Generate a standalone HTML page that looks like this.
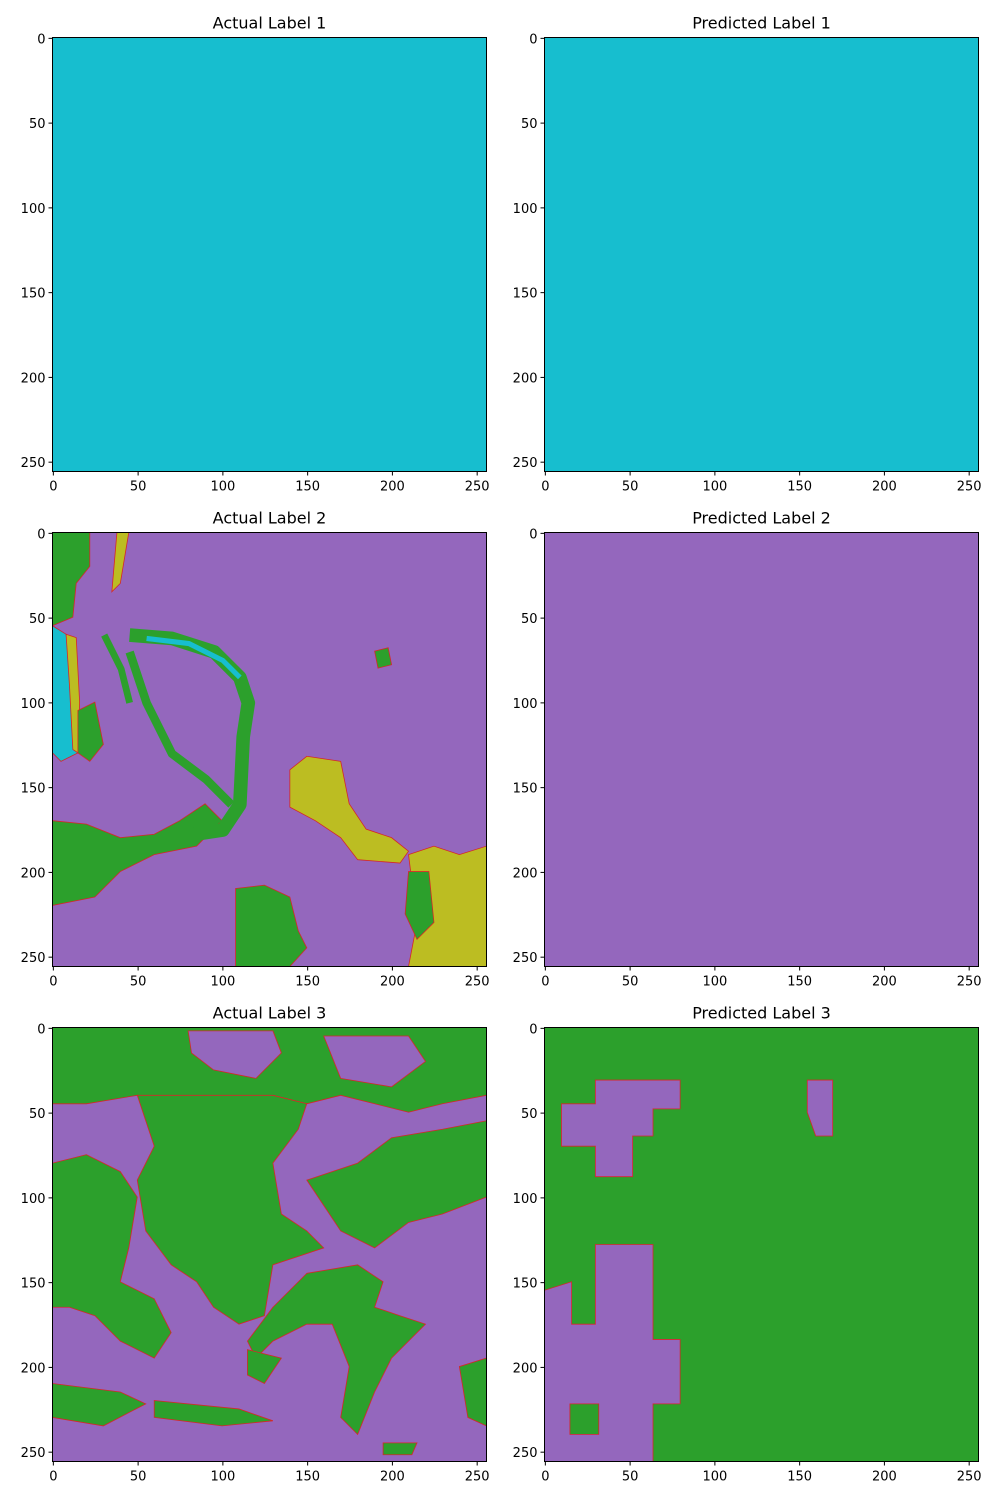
<!DOCTYPE html>
<html><head><meta charset="utf-8"><style>
body{margin:0;background:#fff}
svg{display:block;font-family:"DejaVu Sans","Liberation Sans",sans-serif}
</style></head><body>
<svg id="fig" width="1000" height="1500" xmlns="http://www.w3.org/2000/svg"></svg>
<script>
const ticks=[0,50,100,150,200,250];
const titles=["Actual Label 1","Predicted Label 1","Actual Label 2","Predicted Label 2","Actual Label 3","Predicted Label 3"];
const bgColors=["#17becf","#17becf","#9467bd","#9467bd","#9467bd","#2ca02c"];
// blobs per panel in data coords [color, [[x,y],...]]
const blobs2=[
 ["#2ca02c",[[0,0],[22,0],[22,20],[14,30],[12,50],[0,55]]],
 ["#bcbd22",[[40,0],[45,0],[40,30],[35,35],[38,0]]],
 ["#17becf",[[0,55],[8,60],[12,90],[15,130],[5,135],[0,130]]],
 ["#bcbd22",[[8,60],[14,62],[16,100],[15,130],[12,128],[10,90]]],
 ["#2ca02c",[[0,170],[20,172],[40,180],[60,178],[75,170],[90,160],[100,170],[85,185],[60,190],[40,200],[25,215],[0,220]]],
 ["#2ca02c",[[108,210],[125,208],[140,215],[145,235],[150,245],[140,256],[108,256]]],
 ["#bcbd22",[[140,140],[150,132],[170,135],[175,160],[185,175],[200,180],[210,188],[205,195],[180,193],[170,180],[155,170],[140,162]]],
 ["#bcbd22",[[210,190],[225,185],[240,190],[256,185],[256,256],[210,256],[215,230]]],
 ["#2ca02c",[[210,200],[222,200],[225,230],[215,240],[208,225]]],
 ["#2ca02c",[[190,70],[198,68],[200,78],[192,80]]],
 ["#2ca02c",[[15,105],[25,100],[30,125],[22,135],[15,130]]]
];
const lines2=[
 ["#2ca02c",[[45,60],[70,62],[95,70],[110,85],[115,100],[112,120],[110,160],[100,175],[80,178]],8],
 ["#17becf",[[55,62],[80,65],[100,75],[110,85]],3],
 ["#2ca02c",[[45,70],[55,100],[70,130],[90,145],[105,160]],5],
 ["#2ca02c",[[30,60],[40,80],[45,100]],4]
];
const blobs3=[
 ["#2ca02c",[[0,0],[256,0],[256,40],[230,45],[210,50],[190,45],[170,40],[150,45],[130,40],[110,45],[90,40],[70,42],[50,40],[20,45],[0,45]]],
 ["#9467bd",[[80,2],[130,2],[135,15],[120,30],[95,25],[82,15]]],
 ["#9467bd",[[160,5],[210,5],[220,20],[200,35],[170,30]]],
 ["#2ca02c",[[50,40],[90,40],[130,40],[150,45],[145,60],[130,80],[135,110],[150,120],[160,130],[130,140],[125,170],[110,175],[95,165],[85,150],[70,140],[55,120],[50,90],[60,70],[55,55]]],
 ["#2ca02c",[[0,80],[20,75],[40,85],[50,100],[45,130],[40,150],[60,160],[70,180],[60,195],[40,185],[25,170],[10,165],[0,165]]],
 ["#2ca02c",[[150,90],[180,80],[200,65],[230,60],[256,55],[256,100],[230,110],[210,115],[190,130],[170,120],[160,105]]],
 ["#2ca02c",[[150,145],[180,140],[195,150],[190,165],[205,170],[220,175],[200,195],[190,215],[180,240],[170,230],[175,200],[165,175],[150,175],[130,185],[120,195],[115,185],[130,165]]],
 ["#2ca02c",[[115,190],[135,195],[125,210],[115,205]]],
 ["#2ca02c",[[0,210],[40,215],[55,222],[30,235],[0,230]]],
 ["#2ca02c",[[60,220],[110,225],[130,232],[100,235],[60,230]]],
 ["#2ca02c",[[240,200],[256,195],[256,235],[245,230]]],
 ["#2ca02c",[[195,245],[215,245],[212,252],[195,252]]]
];
const blobs6=[
 ["#9467bd",[[10,45],[30,45],[30,31],[80,31],[80,48],[64,48],[64,64],[52,64],[52,88],[30,88],[30,70],[10,70]]],
 ["#9467bd",[[155,31],[170,31],[170,64],[160,64],[155,50]]],
 ["#9467bd",[[30,128],[64,128],[64,184],[80,184],[80,222],[64,222],[64,256],[0,256],[0,155],[16,150],[16,175],[30,175]]],
 ["#2ca02c",[[15,222],[32,222],[32,240],[15,240]]]
];
const panelBlobs=[[],[],blobs2,[],blobs3,blobs6];
const panelLines=[[],[],lines2,[],[],[]];

const NS="http://www.w3.org/2000/svg";
const svg=document.getElementById('fig');
function mk(t,a,p){const e=document.createElementNS(NS,t);for(const k in a)e.setAttribute(k,a[k]);(p||svg).appendChild(e);return e;}
const lefts=[52.5,544.5],tops=[37.5,532.5,1027.5],W=434,H=434;
titles.forEach((tt,i)=>{
 const L=lefts[i%2],T=tops[Math.floor(i/2)];
 const sx=v=>L+(v+0.5)/256*W, sy=v=>T+(v+0.5)/256*H;
 const g=mk('g',{});
 
 
 const cid='c'+i;
 const cp=mk('clipPath',{id:cid},g);mk('rect',{x:L,y:T,width:W,height:H},cp);
 const bg=mk('rect',{x:L,y:T,width:W,height:H,fill:bgColors[i]},g);
 
 
 const cg=mk('g',{'clip-path':'url(#'+cid+')'},g);
 panelBlobs[i].forEach(b=>{
  const p=mk('polygon',{points:b[1].map(q=>sx(q[0]-0.5)+','+sy(q[1]-0.5)).join(' '),fill:b[0],stroke:'#d62728','stroke-width':0.8},cg);
  
  
 });
 panelLines[i].forEach(b=>{
  const p=mk('polyline',{points:b[1].map(q=>sx(q[0])+','+sy(q[1])).join(' '),fill:'none',stroke:b[0],'stroke-width':b[2]*1.7,'stroke-linejoin':'round'},cg);
  
  
 });
 mk('rect',{x:L,y:T,width:W,height:H,fill:'none',stroke:'#000','stroke-width':1},g);
 const ti=mk('text',{x:L+W/2,y:T-9,'font-size':16,'text-anchor':'middle'},g);ti.textContent=tt;
 
 
 ticks.forEach(v=>{
  mk('line',{x1:sx(v),x2:sx(v),y1:T+H,y2:T+H+4,stroke:'#000'},g);
  const tx=mk('text',{x:sx(v),y:T+H+19,'font-size':13,'text-anchor':'middle'},g);tx.textContent=v;
  
  
  mk('line',{x1:L-4,x2:L,y1:sy(v),y2:sy(v),stroke:'#000'},g);
  const ty=mk('text',{x:L-7,y:sy(v)+5,'font-size':13,'text-anchor':'end'},g);ty.textContent=v;
  
  
 });
});
</script>
</body></html>
